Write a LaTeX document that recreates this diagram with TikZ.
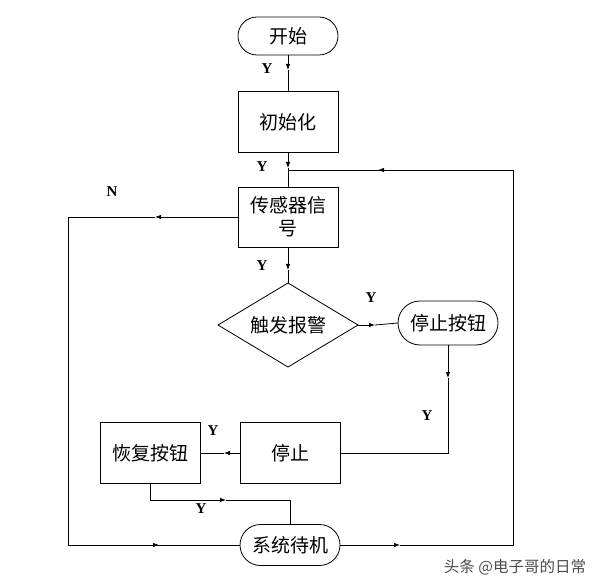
\documentclass[tikz,border=0pt]{standalone}
\usepackage{fontspec}
\setmainfont{Liberation Serif}
\newfontfamily\cjk{Noto Sans CJK SC}
\usetikzlibrary{shapes.misc,shapes.geometric,arrows.meta}
\begin{document}
\begin{tikzpicture}[x=1pt,y=-1pt,
  every node/.style={inner sep=0pt,outer sep=0pt},
  base/.style={draw,line width=0.8pt,font=\cjk\fontsize{19}{23}\selectfont,align=center},
  boxnode/.style={base,rectangle,minimum width=100pt,minimum height=61pt},
  pill/.style={base,rounded rectangle,minimum width=100pt},
  dia/.style={base,diamond,minimum width=140pt,minimum height=84pt,aspect=1.67},
  ln/.style={line width=0.8pt},
  arr/.style={line width=0.8pt,-{Latex[length=6pt,width=4.5pt]}},
  lab/.style={font=\bfseries\fontsize{15}{17}\selectfont}]
\useasboundingbox (0,0) rectangle (597,585);
\fill[white] (0,0) rectangle (597,585);
% nodes
\node[pill,minimum height=38pt] (start) at (288,36) {开始};
\node[boxnode] (init) at (288,122) {初始化};
\node[boxnode,minimum height=60pt] (sensor) at (288,217) {传感器信\\号};
\node[dia] (alarm) at (288,325) {触发报警};
\node[pill,minimum height=44pt] (stopbtn) at (448,323) {停止按钮};
\node[boxnode] (stop) at (290,453) {停止};
\node[boxnode] (resume) at (150,453) {恢复按钮};
\node[pill,minimum height=41pt] (idle) at (290,545) {系统待机};
% arrow-tip coordinates and corners
\coordinate (t1) at (288,70);
\coordinate (t2) at (288,168);
\coordinate (t3) at (288,270);
\coordinate (t4) at (375,325);
\coordinate (t5) at (448,378);
\coordinate (c5) at (448,453);
\coordinate (t6) at (224,453);
\coordinate (t7) at (226,500);
\coordinate (c7b) at (290,500);
\coordinate (t8) at (400,545);
\coordinate (c8a) at (513,545);
\coordinate (c8b) at (513,170);
\coordinate (t9) at (378,170);
\coordinate (j9) at (288,170);
\coordinate (t10) at (155,217);
\coordinate (c10a) at (68,217);
\coordinate (c10b) at (68,545);
\coordinate (t11) at (159,545);
% connectors
\draw[arr] (start) -- (t1); \draw[ln] (t1) -- (init);
\draw[arr] (init) -- (t2); \draw[ln] (t2) -- (sensor);
\draw[arr] (sensor) -- (t3); \draw[ln] (t3) -- (alarm);
\draw[arr] (alarm.east) -- (t4); \draw[ln] (t4) -- (stopbtn.west);
\draw[arr] (stopbtn.south) -- (t5); \draw[ln] (t5) -- (c5) -- (stop.east);
\draw[arr] (stop.west) -- (t6); \draw[ln] (t6) -- (resume.east);
\draw[arr] (resume.south) |- (t7); \draw[ln] (t7) -- (c7b) -- (idle.north);
\draw[arr] (idle.east) -- (t8); \draw[ln] (t8) -- (c8a) -- (c8b) -- (t9);
\draw[arr] (c8b) -- (t9); \draw[ln] (t9) -- (j9);
\draw[arr] (sensor.west) -- (t10); \draw[ln] (t10) -- (c10a) -- (c10b) -- (t11);
\draw[arr] (c10b) -- (t11); \draw[ln] (t11) -- (idle.west);
% labels
\node[lab] (y1) at (267,69) {Y};
\node[lab] (y2) at (262,167) {Y};
\node[lab] (n1) at (112,192) {N};
\node[lab] (y3) at (262,266) {Y};
\node[lab] (y4) at (371,298) {Y};
\node[lab] (y5) at (427,416) {Y};
\node[lab] (y6) at (213,431) {Y};
\node[lab] (y7) at (201,509) {Y};
\node[font=\cjk\fontsize{15.5}{18}\selectfont,text=black!70] (wm) at (515,567) {头条 @电子哥的日常};
\end{tikzpicture}
\end{document}
